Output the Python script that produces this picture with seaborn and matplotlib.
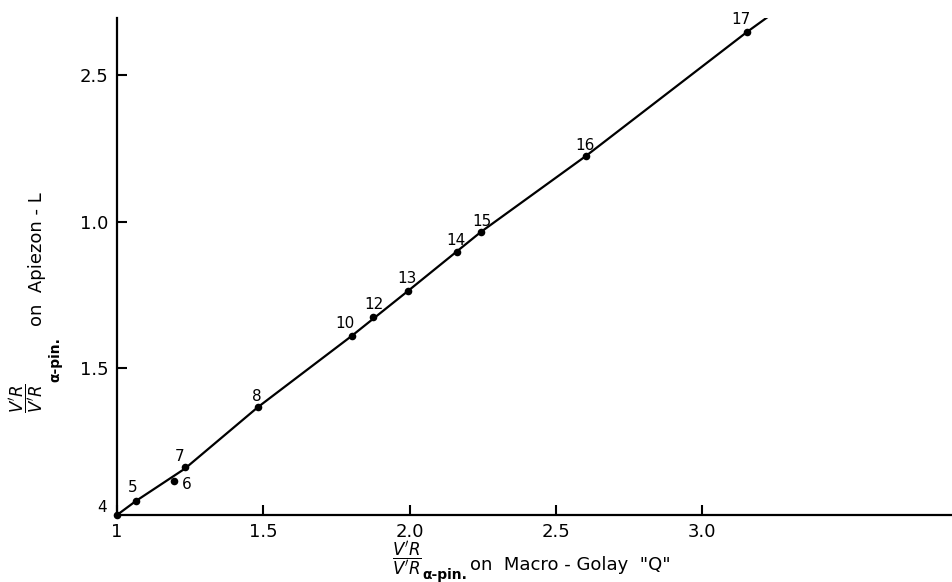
import matplotlib
matplotlib.use("Agg")
import matplotlib.pyplot as plt
import seaborn as sns
import pandas as pd

# data
labels = ["4", "5", "6", "7", "8", "10", "12", "13", "14", "15", "16", "17"]
x_vals = [1.000, 1.065, 1.195, 1.232, 1.482, 1.803, 1.875, 1.995, 2.162, 2.244, 2.603, 3.154]
y_vals = [1.000, 1.048, 1.116, 1.164, 1.368, 1.611, 1.675, 1.764, 1.897, 1.965, 2.224, 2.647]

# fitted curve drawn through the points
curve_x = [1.000, 1.065, 1.232, 1.482, 1.803, 1.995, 2.244, 2.603, 3.154, 3.229]
curve_y = [1.000, 1.048, 1.158, 1.368, 1.611, 1.764, 1.965, 2.224, 2.647, 2.701]

x_ticks = [1.0, 1.5, 2.0, 2.5, 3.0]
x_ticklabels = ["1", "1.5", "2.0", "2.5", "3.0"]
y_ticks = [2.5, 2.0, 1.5]
y_ticklabels = ["2.5", "1.0", "1.5"]

frac_text = r"$\dfrac{V'R}{V'R}$"
sub_text = "α-pin."
x_title = 'on  Macro - Golay  "Q"'
y_title = "on  Apiezon - L"

# label offsets (pixels) for each point
offsets = {"4": (-15, 7), "5": (-3, 13), "6": (13, -4), "7": (-5, 10), "8": (-1, 11),
           "10": (-7, 12), "12": (1, 13), "13": (-1, 12), "14": (-1, 11), "15": (1, 10),
           "16": (-1, 11), "17": (-6, 12)}

sns.set_style("ticks")
plt.rcParams["font.family"] = ["DejaVu Sans"]
plt.rcParams["mathtext.fontset"] = "dejavusans"
for k in ["text.color", "axes.labelcolor", "xtick.color", "ytick.color", "axes.edgecolor"]:
    plt.rcParams[k] = "black"

W, H = 952, 582
fig = plt.figure(figsize=(W / 100, H / 100), dpi=100)
ax = fig.add_axes([117 / W, 67 / H, 1 - 117 / W, (515 - 18) / H])

def px(x, y):
    return x / W, 1 - y / H

pts = pd.DataFrame({"x": x_vals, "y": y_vals, "label": labels})
curve = pd.DataFrame({"x": curve_x, "y": curve_y})

sns.lineplot(data=curve, x="x", y="y", sort=False, color="black", linewidth=1.6, ax=ax)
sns.scatterplot(data=pts, x="x", y="y", color="black", s=30, edgecolor="black",
                linewidth=0, ax=ax, zorder=5, clip_on=False)

for lab, xv, yv in zip(labels, x_vals, y_vals):
    dx, dy = offsets[lab]
    ax.annotate(lab, (xv, yv), xytext=(dx, dy), textcoords="offset pixels",
                ha="center", va="center", fontsize=11)

ax.set_xlim(1.0, 1 + 835 / 292.5)
ax.set_ylim(1.0, 1 + 497 / 293.3)

ax.set_xticks(x_ticks)
ax.set_xticklabels(x_ticklabels)
ax.set_yticks(y_ticks)
ax.set_yticklabels(y_ticklabels)
ax.tick_params(direction="in", length=7, width=1.5, labelsize=13, pad=6)
ax.set_xlabel("")
ax.set_ylabel("")

for s in ["top", "right"]:
    ax.spines[s].set_visible(False)
for s in ["left", "bottom"]:
    ax.spines[s].set_linewidth(1.6)

renderer = fig.canvas.get_renderer()

# x-axis title: fraction, then subscript, then text, chained left to right
x0 = 392
t1 = fig.text(*px(x0, 559), frac_text, ha="left", va="center", fontsize=12)
w1 = t1.get_window_extent(renderer).width
t2 = fig.text(*px(x0 + w1 + 1, 575), sub_text, ha="left", va="center",
              fontsize=10, fontweight="bold")
w2 = t2.get_window_extent(renderer).width
fig.text(*px(x0 + w1 + w2 + 3, 565), x_title, ha="left", va="center", fontsize=13)

# y-axis title: same pieces, rotated, chained bottom to top
y0 = 413
r1 = fig.text(*px(27, y0), frac_text, ha="center", va="bottom", fontsize=12, rotation=90)
h1 = r1.get_window_extent(renderer).height
r2 = fig.text(*px(55, y0 - h1 - 1), sub_text, ha="center", va="bottom", fontsize=10,
              fontweight="bold", rotation=90)
h2 = r2.get_window_extent(renderer).height
fig.text(*px(37, y0 - h1 - h2 - 12), y_title, ha="center", va="bottom", fontsize=13,
         rotation=90)

fig.savefig("out.png", dpi=100)
